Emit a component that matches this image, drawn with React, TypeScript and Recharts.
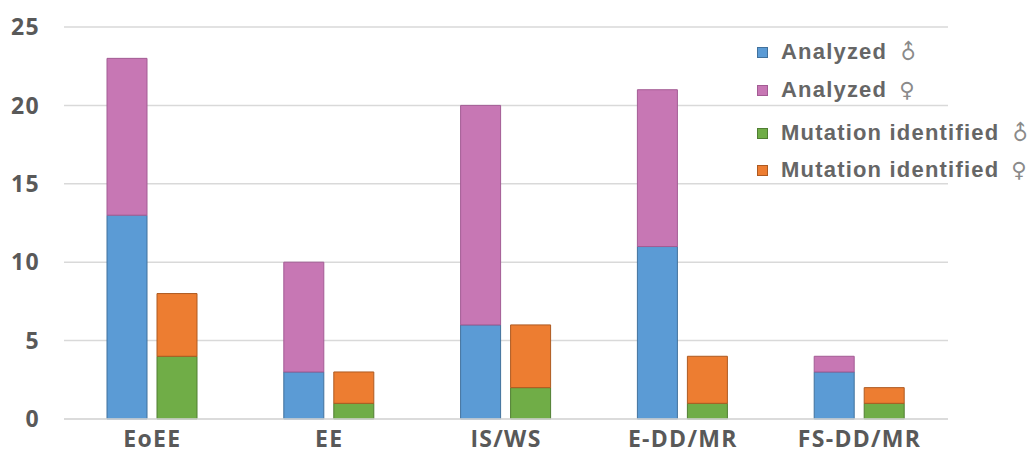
import { Bar, BarChart, CartesianGrid, XAxis, YAxis } from 'recharts'

const categories = ['EoEE', 'EE', 'IS/WS', 'E-DD/MR', 'FS-DD/MR']
const analyzedMale = [13, 3, 6, 11, 3]
const analyzedFemale = [10, 7, 14, 10, 1]
const mutationMale = [4, 1, 2, 1, 1]
const mutationFemale = [4, 2, 4, 3, 1]
const yTicks = [0, 5, 10, 15, 20, 25]

const data = categories.map((name, i) => ({
  name,
  analyzedMale: analyzedMale[i],
  analyzedFemale: analyzedFemale[i],
  mutationMale: mutationMale[i],
  mutationFemale: mutationFemale[i],
}))

const SERIES = [
  { key: 'analyzedMale', stack: 'analyzed', label: 'Analyzed', sex: 'm', fill: '#5B9BD5', stroke: '#41719C', top: 52 },
  { key: 'analyzedFemale', stack: 'analyzed', label: 'Analyzed', sex: 'f', fill: '#C777B4', stroke: '#A35C94', top: 90 },
  { key: 'mutationMale', stack: 'mutation', label: 'Mutation identified', sex: 'm', fill: '#70AD47', stroke: '#507E32', top: 133 },
  { key: 'mutationFemale', stack: 'mutation', label: 'Mutation identified', sex: 'f', fill: '#ED7D31', stroke: '#AE5A21', top: 170 },
]

const TICK = {
  fill: '#595959',
  fontSize: 23,
  fontWeight: 700,
  fontFamily: '"Open Sans", sans-serif',
  letterSpacing: 1.3,
}

function SexSymbol({ sex }: { sex: string }) {
  const base = {
    display: 'inline-block',
    fontFamily: '"DejaVu Sans", sans-serif',
    fontWeight: 400,
    fontSize: 21,
    color: '#8a8a8a',
    marginLeft: 12,
    letterSpacing: 0,
  }
  if (sex === 'f') return <span style={base}>♀</span>
  // male sign turned so the arrow points straight up
  return <span style={{ ...base, transform: 'rotate(-45deg)' }}>♂</span>
}

function LegendBox() {
  return (
    <div style={{ position: 'absolute', left: 757, top: 0, width: 279, height: 200, pointerEvents: 'none' }}>
      {SERIES.map((s) => (
        <div
          key={s.key}
          style={{
            position: 'absolute',
            left: 0,
            top: s.top - 15,
            height: 30,
            display: 'flex',
            alignItems: 'center',
            whiteSpace: 'nowrap',
            fontFamily: '"Liberation Sans", Arial, sans-serif',
            fontWeight: 700,
            fontSize: 22,
            letterSpacing: 1.2,
            color: '#666666',
          }}
        >
          <span
            style={{
              width: 11,
              height: 11,
              background: s.fill,
              border: `1px solid ${s.stroke}`,
              marginRight: 13,
              boxSizing: 'border-box',
            }}
          />
          {s.label}
          <SexSymbol sex={s.sex} />
        </div>
      ))}
    </div>
  )
}

export default function App() {
  return (
    <div style={{ position: 'absolute', left: 0, top: 0, width: 1036, height: 464, background: '#fff', overflow: 'hidden' }}>
      <BarChart
        width={1036}
        height={464}
        data={data}
        margin={{ top: 27, right: 88, left: 0, bottom: 15 }}
        barGap={10}
        barSize={40}
      >
        <CartesianGrid vertical={false} stroke="#D9D9D9" strokeWidth={1.5} />
        <XAxis
          dataKey="name"
          height={30}
          axisLine={{ stroke: '#D9D9D9', strokeWidth: 1.5 }}
          tickLine={false}
          tickMargin={6}
          tick={TICK}
          interval={0}
        />
        <YAxis
          width={64}
          domain={[0, 25]}
          ticks={yTicks}
          axisLine={false}
          tickLine={false}
          tickMargin={18}
          tick={TICK}
        />
        {SERIES.map((s) => (
          <Bar
            key={s.key}
            dataKey={s.key}
            stackId={s.stack}
            fill={s.fill}
            stroke={s.stroke}
            strokeWidth={1}
            isAnimationActive={false}
          />
        ))}
      </BarChart>
      <LegendBox />
    </div>
  )
}
